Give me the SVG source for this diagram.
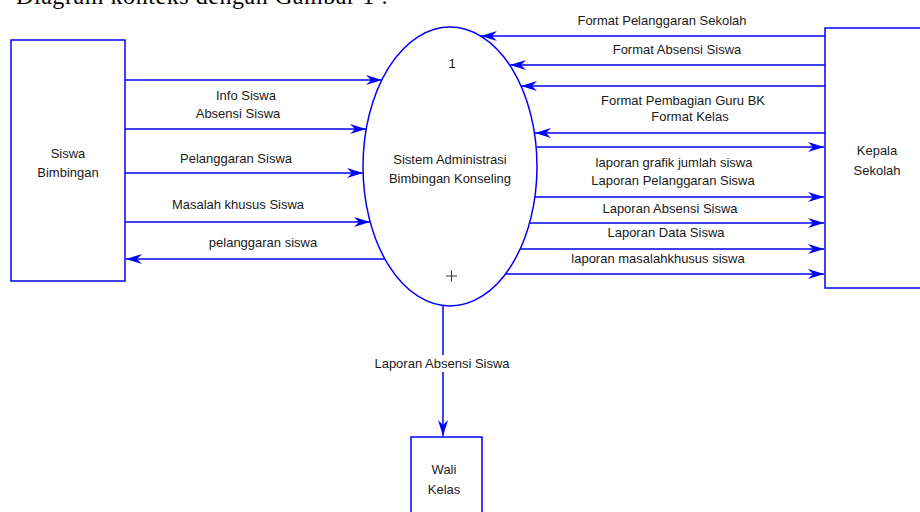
<svg xmlns="http://www.w3.org/2000/svg" width="920" height="512" viewBox="0 0 920 512">
  <style>
    .box { fill: #ffffff; stroke: #0000ff; stroke-width: 1.5; }
    .flow { fill: none; stroke: #0000ff; stroke-width: 1.5; }
    .t { font-family: "Liberation Sans", Arial, sans-serif; font-size: 13px; fill: #1a1a1a; text-anchor: middle; }
    .title { font-family: "Liberation Serif", "Times New Roman", serif; font-size: 24px; fill: #000000; }
  </style>
  <defs>
    <marker id="arr" markerUnits="userSpaceOnUse" markerWidth="18" markerHeight="12" refX="16" refY="5" orient="auto">
      <path d="M0,0 L16,5 L0,10 L5,5 z" fill="#0000ff"/>
    </marker>
  </defs>
  <rect width="920" height="512" fill="#ffffff"/>
  <text class="title" x="16" y="4" textLength="372" lengthAdjust="spacing">Diagram konteks dengan Gambar 1 :</text>

  <g id="connectors">
    <line class="flow" x1="125" y1="80" x2="382" y2="80" marker-end="url(#arr)"/>
    <line class="flow" x1="125" y1="129" x2="366" y2="129" marker-end="url(#arr)"/>
    <line class="flow" x1="125" y1="173" x2="363" y2="173" marker-end="url(#arr)"/>
    <line class="flow" x1="125" y1="222" x2="370" y2="222" marker-end="url(#arr)"/>
    <line class="flow" x1="385" y1="259" x2="126" y2="259" marker-end="url(#arr)"/>

    <line class="flow" x1="825" y1="36" x2="481" y2="36" marker-end="url(#arr)"/>
    <line class="flow" x1="825" y1="65" x2="510" y2="65" marker-end="url(#arr)"/>
    <line class="flow" x1="825" y1="86" x2="521" y2="86" marker-end="url(#arr)"/>
    <line class="flow" x1="825" y1="133" x2="535" y2="133" marker-end="url(#arr)"/>
    <line class="flow" x1="537" y1="147" x2="824" y2="147" marker-end="url(#arr)"/>
    <line class="flow" x1="535" y1="197" x2="824" y2="197" marker-end="url(#arr)"/>
    <line class="flow" x1="529" y1="223" x2="824" y2="223" marker-end="url(#arr)"/>
    <line class="flow" x1="520" y1="249" x2="824" y2="249" marker-end="url(#arr)"/>
    <line class="flow" x1="505" y1="274" x2="824" y2="274" marker-end="url(#arr)"/>

    <line class="flow" x1="443" y1="306" x2="443" y2="436" marker-end="url(#arr)"/>
    <rect x="368" y="355" width="150" height="17" fill="#ffffff"/>

    <text class="t" x="246" y="100">Info Siswa</text>
    <text class="t" x="238" y="118">Absensi Siswa</text>
    <text class="t" x="236" y="163">Pelanggaran Siswa</text>
    <text class="t" x="238" y="209">Masalah khusus Siswa</text>
    <text class="t" x="263" y="247">pelanggaran siswa</text>

    <text class="t" x="662" y="25">Format Pelanggaran Sekolah</text>
    <text class="t" x="677" y="54">Format Absensi Siswa</text>
    <text class="t" x="683" y="105">Format Pembagian Guru BK</text>
    <text class="t" x="690" y="121">Format Kelas</text>
    <text class="t" x="674" y="167">laporan grafik jumlah siswa</text>
    <text class="t" x="673" y="185">Laporan Pelanggaran Siswa</text>
    <text class="t" x="670" y="213">Laporan Absensi Siswa</text>
    <text class="t" x="666" y="237">Laporan Data Siswa</text>
    <text class="t" x="658" y="263">laporan masalahkhusus siswa</text>

    <text class="t" x="442" y="368">Laporan Absensi Siswa</text>
  </g>

  <g id="siswa-bimbingan">
    <rect class="box" x="11" y="40" width="114" height="241"/>
    <text class="t" x="68" y="158">Siswa</text>
    <text class="t" x="68" y="177">Bimbingan</text>
  </g>

  <g id="proses-1">
    <ellipse class="box" cx="450" cy="166.5" rx="87" ry="139.5"/>
    <text class="t" x="452" y="68">1</text>
    <text class="t" x="450" y="164">Sistem Administrasi</text>
    <text class="t" x="450" y="183">Bimbingan Konseling</text>
    <path d="M446,276 H457 M451.5,270.5 V281.5" stroke="#333333" stroke-width="1" fill="none"/>
  </g>

  <g id="kepala-sekolah">
    <rect class="box" x="825" y="28" width="110" height="260"/>
    <text class="t" x="877" y="155">Kepala</text>
    <text class="t" x="877" y="175">Sekolah</text>
  </g>

  <g id="wali-kelas">
    <rect class="box" x="411" y="437" width="71" height="90"/>
    <text class="t" x="444" y="474">Wali</text>
    <text class="t" x="444" y="494">Kelas</text>
  </g>
</svg>
